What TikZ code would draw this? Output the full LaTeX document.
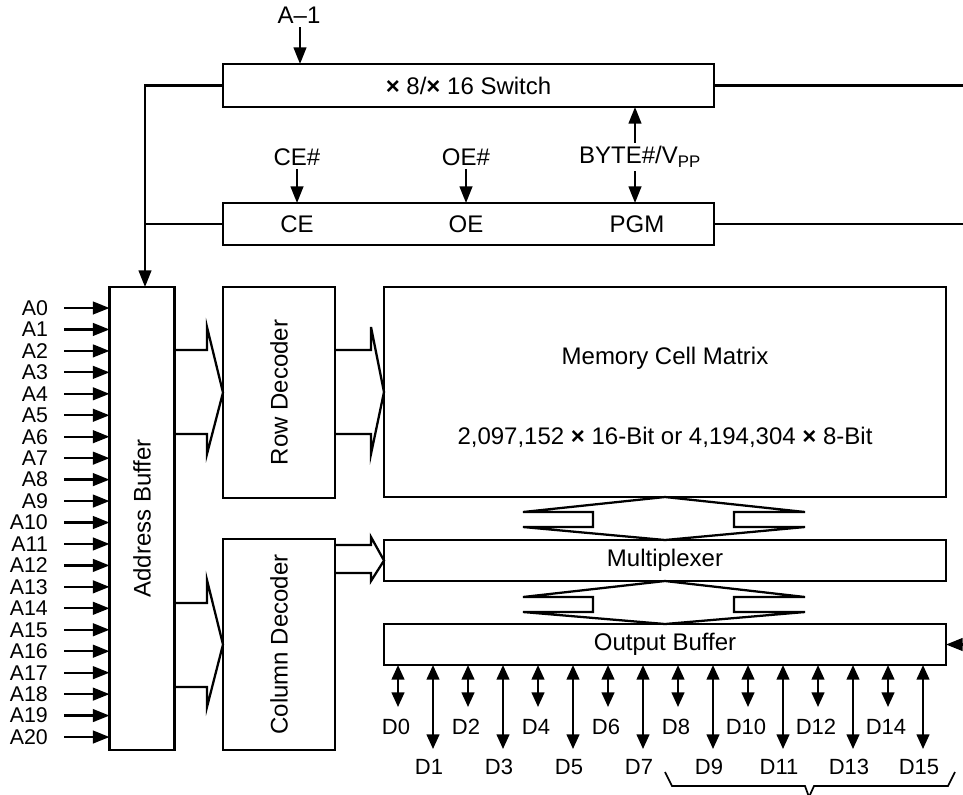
\documentclass[tikz,border=0pt]{standalone}
\usepackage{fontspec}
\setmainfont{Liberation Sans}
\usetikzlibrary{arrows.meta}
\newcommand{\tms}{{\bfseries ×}}
\begin{document}
\begin{tikzpicture}[x=0.75pt,y=-0.75pt, line width=1.7pt,
  box/.style={draw, rectangle, inner sep=0pt, outer sep=0pt},
  txt/.style={font=\fontsize{18}{21}\selectfont, inner sep=0pt},
  sig/.style={font=\fontsize{18}{21}\selectfont, inner sep=2pt},
  alab/.style={font=\fontsize{16}{19}\selectfont, inner sep=0pt, anchor=east},
  dlab/.style={font=\fontsize{16.5}{19}\selectfont, inner sep=0pt},
  arr/.style={-{Triangle[length=12.5pt,width=9.5pt]}},
  darr/.style={{Triangle[length=11pt,width=9.5pt]}-{Triangle[length=11pt,width=9.5pt]}},
  bus/.style={line join=miter}]
\useasboundingbox (0,0) rectangle (963,794);
\clip (0,0) rectangle (963,794);
\coordinate (E) at (963,0);
\coordinate (lx) at (145,0);
\coordinate (bx) at (635,0);

% top boxes
\node[box, minimum width=368.25pt, minimum height=32.25pt] (sw) at (468.5,85.5) {};
\node[txt] (swt) at (sw) {\tms\ 8/\tms\ 16 Switch};
\node[box, minimum width=368.25pt, minimum height=31.5pt] (ce) at (468.5,224) {};
\node[txt] (cet) at (297,224) {CE};
\node[txt] (oet) at (466,224) {OE};
\node[txt] (pgmt) at (637,224) {PGM};

% signals
\node[sig] (am1) at (299,15) {A–1};
\draw[arr] (am1.south -| 300,0) -- (sw.north -| 300,0);
\node[sig] (cesig) at (297,157) {CE\#};
\draw[arr] (cesig.south) -- (cesig.south |- ce.north);
\node[sig] (oesig) at (466,157) {OE\#};
\draw[arr] (oesig.south) -- (oesig.south |- ce.north);
\node[sig] (byte) at (640,157) {BYTE\#/V\textsubscript{PP}};
\draw[arr] (bx |- byte.north) -- (bx |- sw.south);
\draw[arr] (bx |- byte.south) -- (bx |- ce.north);

% main blocks
\node[box, minimum width=48.75pt, minimum height=347.25pt] (ab) at (142,518.5) {};
\node[txt, rotate=90] (abt) at (ab) {Address Buffer};
\node[box, minimum width=84pt, minimum height=158.25pt] (rd) at (279,392.5) {};
\node[txt, rotate=90] (rdt) at (rd) {Row Decoder};
\node[box, minimum width=84pt, minimum height=158.25pt] (cd) at (279,644.5) {};
\node[txt, rotate=90] (cdt) at (cd) {Column Decoder};
\node[box, minimum width=421.5pt, minimum height=157.5pt] (mem) at (665,392) {};
\node[txt] (memt1) at (665,358) {Memory Cell Matrix};
\node[txt] (memt2) at (665,437) {2,097,152 \tms\ 16-Bit or 4,194,304 \tms\ 8-Bit};
\node[box, minimum width=421.5pt, minimum height=30.75pt] (mux) at (665,560.5) {};
\node[txt] (muxt) at (mux) {Multiplexer};
\node[box, minimum width=421.5pt, minimum height=30.75pt] (ob) at (665,644.5) {};
\node[txt] (obt) at (ob) {Output Buffer};

% control lines
\draw[arr] (sw.west) -| (lx |- ab.north);
\draw (ce.west) -- (ce.west -| lx);
\draw (sw.east) -- (sw.east -| E);
\draw (ce.east) -- (ce.east -| E);
\draw[arr] (ob.east -| E) -- (ob.east);

% bus arrows
\draw[bus] (ab.east |- 0,350) -- (207,350) -- (207,327) -- (rd.west) -- (207,454) -- (207,434) -- (ab.east |- 0,434);
\draw[bus] (ab.east |- 0,603) -- (207,603) -- (207,580) -- (cd.west) -- (207,707) -- (207,687) -- (ab.east |- 0,687);
\draw[bus] (rd.east |- 0,350) -- (371,350) -- (371,327) -- (mem.west) -- (371,454) -- (371,434) -- (rd.east |- 0,434);
\draw[bus] (cd.east |- 0,545) -- (371,545) -- (371,537) -- (mux.west) -- (371,581) -- (371,573) -- (cd.east |- 0,573);

% double hollow arrows
\draw[bus] (523,512) -- (mem.south) -- (805,512) -- (734,512) -- (734,527) -- (805,527) -- (mux.north) -- (523,527) -- (593,527) -- (593,512) -- cycle;
\draw[bus] (523,597) -- (mux.south) -- (805,597) -- (734,597) -- (734,612) -- (805,612) -- (ob.north) -- (523,612) -- (593,612) -- (593,597) -- cycle;

% address inputs
\foreach \i in {0,...,20}{
  \pgfmathsetmacro\ay{308+21.45*\i}
  \node[alab] (a\i) at (49,\ay) {A\i};
  \draw[arr] ([xshift=11.25pt]a\i.east) -- (a\i.east -| ab.west);
}

% data lines
\foreach \i in {0,2,...,14}{
  \pgfmathsetmacro\dx{398+35*\i}
  \draw[darr] (ob.south -| \dx,0) -- ++(0,42) coordinate (de\i);
  \node[dlab] (d\i) at ([xshift=-1.5pt]\dx,727) {D\i};
}
\foreach \i in {1,3,...,15}{
  \pgfmathsetmacro\dx{398+35*\i}
  \draw[darr] (ob.south -| \dx,0) -- ++(0,84) coordinate (de\i);
  \node[dlab] (d\i) at ([xshift=-3pt]\dx,767) {D\i};
}

% brace
\draw[line width=1.3pt, line join=miter] (665,772) -- (672,786) -- (805,786) -- (809,797) -- (814,786) -- (948,786) -- (955,772);
\end{tikzpicture}
\end{document}
